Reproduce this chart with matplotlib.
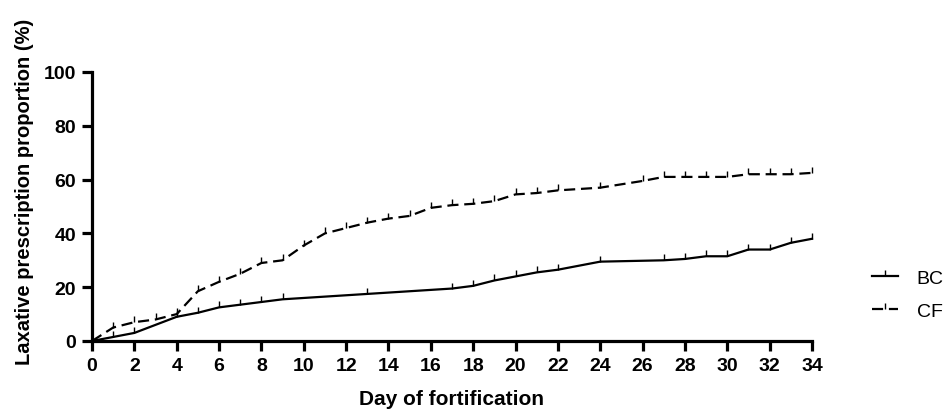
import matplotlib
matplotlib.use("Agg")
import matplotlib.pyplot as plt
from matplotlib.path import Path

plt.rcParams['font.family'] = ['Liberation Sans', 'DejaVu Sans']

days_bc = [0, 1, 2, 4, 5, 6, 7, 8, 9, 13, 17, 18, 19, 20, 21, 22, 24, 27, 28, 29, 30, 31, 32, 33, 34]
bc = [0, 1.5, 3, 9, 10.5, 12.5, 13.5, 14.5, 15.5, 17.5, 19.5, 20.5, 22.5, 24, 25.5, 26.5, 29.5,
      30, 30.5, 31.5, 31.5, 34, 34, 36.5, 38]
days_cf = [0, 1, 2, 3, 4, 5, 6, 7, 8, 9, 10, 11, 12, 13, 14, 15, 16, 17, 18, 19, 20, 21, 22,
           24, 26, 27, 28, 29, 30, 31, 32, 33, 34]
cf = [0, 5, 7, 8, 10, 18.5, 22, 25, 29, 30, 35.5, 40, 42, 44, 45.5, 46.5, 49.5, 50.5, 51, 52,
      54.5, 55, 56, 57, 59.5, 61, 61, 61, 61, 62, 62, 62, 62.5]
series_names = ['BC', 'CF']
x_ticks = list(range(0, 35, 2))
y_ticks = [0, 20, 40, 60, 80, 100]

fig = plt.figure(figsize=(9.44, 4.10), dpi=100)
L, R, T, B = 92, 812, 73, 342
ax = fig.add_axes([L / 944, 1 - B / 410, (R - L) / 944, (B - T) / 410])

tick_up = Path([(0, 0), (0, 1)], [Path.MOVETO, Path.LINETO])

ax.plot(days_bc, bc, color='black', lw=1.6, marker=tick_up, markersize=9,
        markeredgewidth=1.0, label=series_names[0], clip_on=False,
        markevery=list(range(1, len(days_bc))))
ax.plot(days_cf, cf, color='black', lw=1.6, linestyle=(0, (5, 2.6)), marker=tick_up,
        markersize=9, markeredgewidth=1.0, label=series_names[1], clip_on=False,
        markevery=list(range(1, len(days_cf))))

ax.set_xlim(0, 34)
ax.set_ylim(0, 100)
ax.set_xticks(x_ticks)
ax.set_yticks(y_ticks)
for s in ['top', 'right']:
    ax.spines[s].set_visible(False)
for s in ['left', 'bottom']:
    ax.spines[s].set_linewidth(2.3)
ax.tick_params(axis='both', which='major', length=7.5, width=2.3, labelsize=14, pad=4)
for lbl in ax.get_xticklabels() + ax.get_yticklabels():
    lbl.set_fontweight('bold')

ax.set_xlabel('Day of fortification', fontsize=15, fontweight='bold')
ax.set_ylabel('Laxative prescription proportion (%)', fontsize=14.5, fontweight='bold')
ax.xaxis.set_label_coords(0.5, (B - 400) / (B - T), transform=ax.transAxes)
ax.yaxis.set_label_coords((24 - L) / (R - L), (B - 192) / (B - T), transform=ax.transAxes)
ax.xaxis.label.set_va('center')
ax.yaxis.label.set_va('center')

leg = ax.legend(loc='center left', bbox_to_anchor=((872 - L) / (R - L), (B - 295.5) / (B - T)),
                frameon=False, fontsize=14, handlelength=1.35, handletextpad=0.95,
                labelspacing=0.8, borderaxespad=0, borderpad=0)

fig.savefig('out.png', dpi=100)
